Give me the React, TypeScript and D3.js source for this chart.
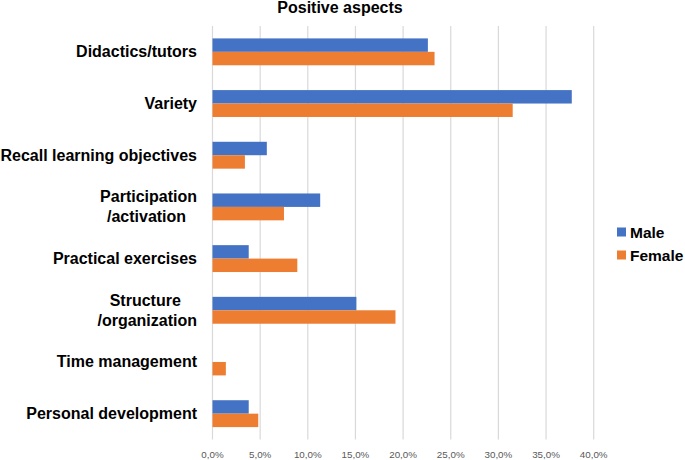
import React, { useMemo } from "react";
import * as d3 from "d3";

const categories: string[][] = [
  ["Didactics/tutors"],
  ["Variety"],
  ["Recall learning objectives"],
  ["Participation", "/activation "],
  ["Practical exercises"],
  ["Structure ", "/organization"],
  ["Time management"],
  ["Personal development"],
];
const maleValues = [22.6, 37.7, 5.7, 11.3, 3.8, 15.1, 0, 3.8];
const femaleValues = [23.3, 31.5, 3.4, 7.5, 8.9, 19.2, 1.4, 4.8];
const tickValues = [0, 5, 10, 15, 20, 25, 30, 35, 40];
const seriesNames = ["Male", "Female"];
const seriesColors = ["#4472C4", "#ED7D31"];

const W = 685;
const H = 460;
const left = 212.5;
const right = 593.7;
const top = 26;
const bottom = 439.5;
const labelFont = "'Liberation Sans', Arial, sans-serif";
const labelSize = 16;

function measure(text: string, font: string): number {
  if (typeof document === "undefined") return text.length * 8;
  const c = document.createElement("canvas").getContext("2d");
  if (!c) return text.length * 8;
  c.font = font;
  return c.measureText(text).width;
}

export default function App() {
  const x = d3.scaleLinear().domain([0, 40]).range([left, right]);
  const idx = categories.map((_, i) => String(i));
  const y = d3.scaleBand().domain(idx).range([top, bottom]).paddingInner(0.48).paddingOuter(0.24);
  const sub = d3.scaleBand().domain(seriesNames).range([0, y.bandwidth()]);
  const series = [maleValues, femaleValues];
  const fmt = (v: number) => v.toFixed(1).replace(".", ",") + "%";

  const labelFontSpec = `bold ${labelSize}px ${labelFont}`;
  const widths = useMemo(
    () => categories.map((lines) => Math.max(...lines.map((l) => measure(l.trim(), labelFontSpec)))),
    []
  );

  return (
    <svg width={W} height={H} style={{ position: "absolute", left: 0, top: 0, background: "#fff" }}>
      <rect width={W} height={H} fill="#fff" />
      <text x={340} y={13} textAnchor="middle" fontFamily={labelFont} fontWeight="bold" fontSize={16} fill="#000">
        Positive aspects
      </text>
      {tickValues.map((t) => (
        <g key={t}>
          <line x1={x(t)} x2={x(t)} y1={top} y2={bottom} stroke="#d9d9d9" strokeWidth={1.2} />
          <text x={x(t)} y={458} textAnchor="middle" fontFamily={labelFont} fontSize={9.8} fill="#595959">
            {fmt(t)}
          </text>
        </g>
      ))}
      {series.map((vals, s) =>
        vals.map((v, i) =>
          v > 0 ? (
            <rect
              key={`${s}-${i}`}
              x={x(0)}
              y={(y(String(i)) as number) + (sub(seriesNames[s]) as number)}
              width={x(v) - x(0)}
              height={sub.bandwidth()}
              fill={seriesColors[s]}
            />
          ) : null
        )
      )}
      {categories.map((lines, i) => {
        const cy = (y(String(i)) as number) + y.bandwidth() / 2;
        const lh = 20;
        const rightEdge = 197;
        if (lines.length === 1) {
          return (
            <text key={i} x={rightEdge} y={cy + 5.5} textAnchor="end" fontFamily={labelFont} fontWeight="bold" fontSize={labelSize} fill="#000">
              {lines[0]}
            </text>
          );
        }
        const cx = rightEdge - widths[i] / 2;
        return (
          <text key={i} textAnchor="middle" fontFamily={labelFont} fontWeight="bold" fontSize={labelSize} fill="#000">
            {lines.map((l, k) => (
              <tspan key={k} x={cx - (l.endsWith(" ") ? 2 : 0)} y={cy + 5.5 + (k - (lines.length - 1) / 2) * lh}>
                {l.trim()}
              </tspan>
            ))}
          </text>
        );
      })}
      {seriesNames.map((n, s) => (
        <g key={n} transform={`translate(617, ${232 + s * 23})`}>
          <rect x={0} y={-4.5} width={9} height={9} fill={seriesColors[s]} />
          <text x={13} y={5.5} fontFamily={labelFont} fontWeight="bold" fontSize={15.5} fill="#000">
            {n}
          </text>
        </g>
      ))}
    </svg>
  );
}
